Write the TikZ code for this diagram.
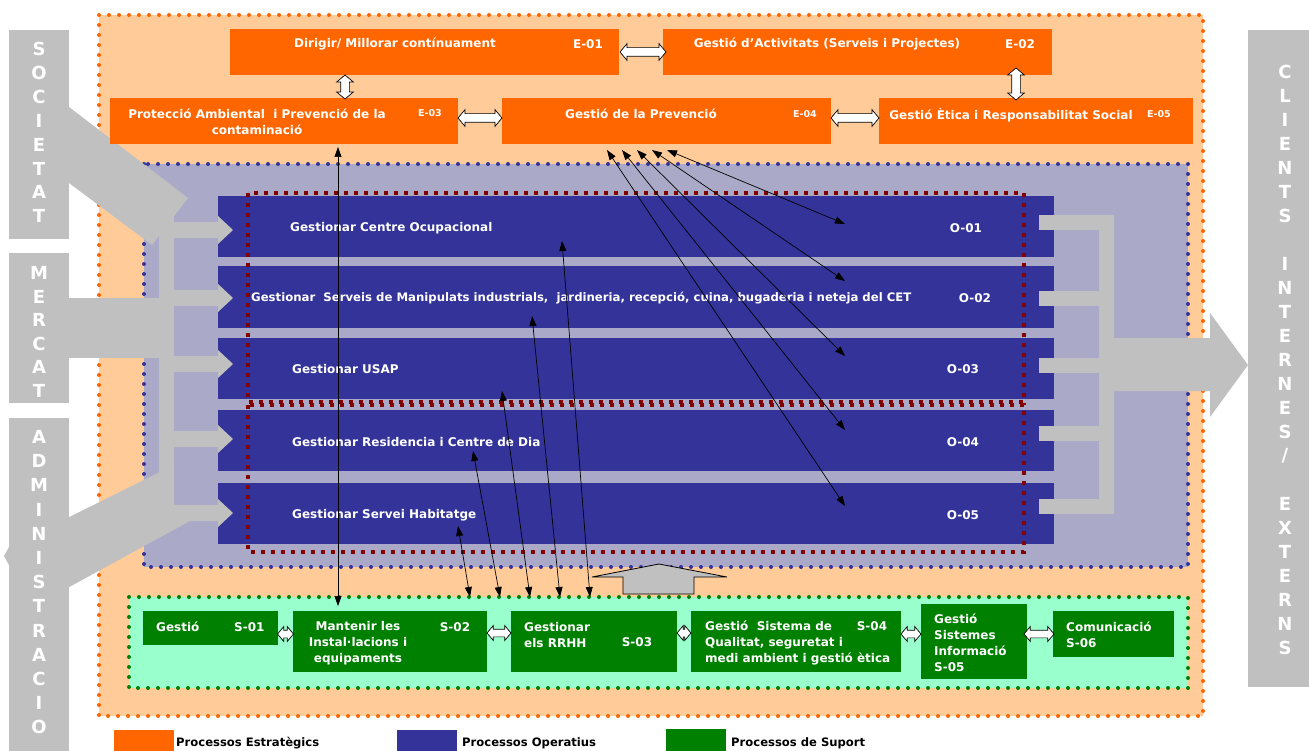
\documentclass[tikz,border=0pt]{standalone}
\usepackage{fontspec}
\setmainfont{DejaVu Sans}
\usetikzlibrary{arrows.meta, shapes.arrows}

\definecolor{estrat}{HTML}{FF6600}
\definecolor{estratfons}{HTML}{FFCC99}
\definecolor{operat}{HTML}{333399}
\definecolor{operatfons}{HTML}{AAAAC8}
\definecolor{suport}{HTML}{008000}
\definecolor{suportfons}{HTML}{99FFCC}
\definecolor{gris}{HTML}{C0C0C0}
\definecolor{granat}{HTML}{800000}

\begin{document}
\begin{tikzpicture}[x=1pt, y=-1pt,
    area box/.style={rectangle, inner sep=0pt, anchor=north west},
    label text/.style={text=white, inner sep=0pt, font=\bfseries\fontsize{12}{16}\selectfont},
    code text/.style={text=white, inner sep=0pt, font=\bfseries\fontsize{9.5}{12}\selectfont},
    legend text/.style={text=black, inner sep=0pt, anchor=west, font=\bfseries\fontsize{11.6}{14}\selectfont},
    column letter/.style={text=white, inner sep=0pt, font=\bfseries\fontsize{18}{18}\selectfont},
    orange dots/.style={draw=estrat, line width=4pt, line cap=round, dash pattern=on 0pt off 10pt},
    blue dots/.style={draw=operat, line width=4pt, line cap=round, dash pattern=on 0pt off 10pt},
    green dots/.style={draw=suport, line width=4pt, line cap=round, dash pattern=on 0pt off 10pt},
    wine dots/.style={draw=granat, line width=3.8pt, dash pattern=on 3.8pt off 6.2pt},
    white arrow/.style={double arrow, draw=black, fill=white, line width=0.7pt, inner sep=0pt,
        minimum width=0pt, double arrow head extend=4pt, double arrow tip angle=100},
    link/.style={draw=black, line width=0.7pt, {Triangle[length=10pt,width=7pt]}-{Triangle[length=10pt,width=7pt]}}
]
\useasboundingbox (0,0) rectangle (1309,751);

% 1. Zones de fons
\fill[estratfons] (99,15) rectangle (1203,716);
\draw[orange dots] (99,15) rectangle (1203,716);
\fill[operatfons] (144,164) rectangle (1188,567);
\draw[blue dots] (144,164) rectangle (1188,567);
\fill[suportfons] (129,597) rectangle (1188,688);
\draw[green dots] (129,597) rectangle (1188,688);

% 2. Processos operatius
\foreach \i/\yc/\xt/\txt/\xc in {
    1/226.5/290/{Gestionar Centre Ocupacional}/966,
    2/297/251/{\fontsize{11.7}{16}\selectfont Gestionar\ \ Serveis de Manipulats industrials,\ \ jardineria, recepció, cuina, bugaderia i neteja del CET}/975,
    3/368/292/{Gestionar USAP}/963,
    4/440.5/292/{Gestionar Residencia i Centre de Dia}/963,
    5/513.5/292/{Gestionar Servei Habitatge}/963
}{
    \node[area box, anchor=west, fill=operat, minimum width=836pt, minimum height=61pt] (op\i) at (218,\yc) {};
    \node[label text, anchor=west] (op\i txt) at (\xt,\yc+1.5) {\txt};
    \node[label text] (op\i code) at (\xc,\yc+1.5) {O-0\i};
}
\draw[wine dots] (248,193) rectangle (1024,402);
\draw[wine dots] (248,405) rectangle (1024,552);

% 3. Fletxes grises d'entrada i de sortida
\fill[gris] (69,107) -- (188,198) -- (152,245) -- (69,183) -- cycle;
\fill[gris] (69,298) rectangle (174,358);
\fill[gris] (4,556) -- (9,547) -- (174,465) -- (174,505) -- (190,521) -- (9,620) -- (9,565) -- cycle;
\fill[gris] (159,215) rectangle (174,480);
\foreach \yc in {230,298,364,439,513}{
    \fill[gris] (174,\yc-8) rectangle (218,\yc+8);
    \fill[gris] (218,\yc-14) -- (233,\yc) -- (218,\yc+14) -- cycle;
}
\fill[gris] (1099,215) rectangle (1114,513);
\foreach \yc in {222.5,298.5,365.5,433.5,506}{
    \fill[gris] (1039,\yc-7.5) rectangle (1114,\yc+7.5);
}
\fill[gris] (1114,338) -- (1210,338) -- (1210,313) -- (1248,365) -- (1210,417) -- (1210,391) -- (1114,391) -- cycle;

% 4. Processos estratègics
\foreach \nm/\x/\y/\w in {e01/230/29/389, e02/663/29/389, e03/110/98/348, e04/502/98/329, e05/879/98/314}{
    \node[area box, fill=estrat, minimum width=\w pt, minimum height=46pt] (\nm) at (\x,\y) {};
}
\node[label text] (e01txt) at (395,44) {Dirigir/ Millorar contínuament};
\node[label text] (e01code) at (588,44) {E-01};
\node[label text] (e02txt) at (827,44) {Gestió d’Activitats (Serveis i Projectes)};
\node[label text] (e02code) at (1020,44) {E-02};
\node[label text, align=center] (e03txt) at (257,122) {Protecció Ambiental\ \ i Prevenció de la\\contaminació};
\node[code text] (e03code) at (430,113) {E-03};
\node[label text] (e04txt) at (641,114) {Gestió de la Prevenció};
\node[code text] (e04code) at (805,114) {E-04};
\node[label text] (e05txt) at (1011,115) {Gestió Ètica i Responsabilitat Social};
\node[code text] (e05code) at (1159,114) {E-05};

% 5. Processos de suport
\foreach \nm/\x/\y/\w/\h in {s01/143/611/135/34, s02/293/611/194/61, s03/511/611/166/61,
                             s04/691/611/210/61, s05/921/604/106/75, s06/1053/611/121/46}{
    \node[area box, fill=suport, minimum width=\w pt, minimum height=\h pt] (\nm) at (\x,\y) {};
}
\node[label text, anchor=west] (s01txt) at (156,627) {Gestió};
\node[label text, anchor=west] (s01code) at (234,627) {S-01};
\node[label text, align=center] (s02txt) at (358,643) {Mantenir les\\Instal·lacions i\\equipaments};
\node[label text] (s02code) at (455,627) {S-02};
\node[label text, align=left, anchor=west] (s03txt) at (524,635) {Gestionar\\els RRHH};
\node[label text] (s03code) at (637,642) {S-03};
\node[label text, align=left, anchor=west] (s04txt) at (705,643) {Gestió\ \ Sistema de\\Qualitat, seguretat i\\medi ambient i gestió ètica};
\node[label text] (s04code) at (872,626) {S-04};
\node[label text, align=left, anchor=west] (s05txt) at (934,643) {Gestió\\Sistemes\\Informació\\S-05};
\node[label text, align=left, anchor=west] (s06txt) at (1066,635) {Comunicació\\S-06};

% fletxa grisa cap amunt
\filldraw[fill=gris, draw=black, line width=0.8pt] (592,577) -- (659,564) -- (727,577) -- (694,577)
    -- (694,594) -- (623,594) -- (623,577) -- cycle;

% 6. Relacions entre processos
\coordinate (e03peu) at (338,147);
\coordinate (s02cap) at (338,606);
\draw[link] (e03peu) -- (s02cap);
\foreach \i/\xa/\yb in {1/667/224, 2/652/281, 3/637/356, 4/622/430, 5/607/506}{
    \coordinate (prev\i) at (\xa,150);
    \coordinate (opx\i) at (845,\yb);
    \draw[link] (prev\i) -- (opx\i);
}
\foreach \i/\xa/\ya/\xb in {5/458/526/470, 4/473/451/500, 3/502/391/530, 2/532/316/560, 1/562/241/590}{
    \coordinate (rrhh\i) at (\xa,\ya);
    \coordinate (sup\i) at (\xb,597);
    \draw[link] (sup\i) -- (rrhh\i);
}

% fletxes dobles blanques (el \rule fixa el gruix del cos)
\foreach \nm/\x/\y/\len/\rot in {a0102/643/52/46/0, a0304/480/118/44/0, a0405/855/118/48/0,
                                 a0103/345/87/24/90, a0205/1016/84/32/90}{
    \node[white arrow, minimum height=\len pt, rotate=\rot] (\nm) at (\x,\y) {\rule{0pt}{8pt}};
}
\foreach \nm/\x/\y/\len in {b0102/285.5/634/16, b0203/499/633/24, b0304/684/633/14,
                            b0405/911/634/20, b0506/1039/634/30}{
    \node[white arrow, double arrow head extend=3.5pt, minimum height=\len pt] (\nm) at (\x,\y) {\rule{0pt}{7pt}};
}

% 7. Columnes d'entorn
\node[area box, fill=gris, minimum width=60pt, minimum height=209pt] (societat) at (9,30) {};
\node[area box, fill=gris, minimum width=60pt, minimum height=150pt] (mercat) at (9,253) {};
\node[area box, fill=gris, minimum width=60pt, minimum height=333pt] (administracio) at (9,418) {};
\node[area box, fill=gris, minimum width=61pt, minimum height=657pt] (clients) at (1248,30) {};
\foreach \ch [count=\i from 0] in {S,O,C,I,E,T,A,T}
    \node[column letter] (soc\i) at (39,49+23.9*\i) {\ch};
\foreach \ch [count=\i from 0] in {M,E,R,C,A,T}
    \node[column letter] (mer\i) at (39,273+23.6*\i) {\ch};
\foreach \ch [count=\i from 0] in {A,D,M,I,N,I,S,T,R,A,C,I,O}
    \node[column letter] (adm\i) at (39,437+24.2*\i) {\ch};
\foreach \ch [count=\i from 0] in {C,L,I,E,N,T,S,{},I,N,T,E,R,N,E,S,{/},{},E,X,T,E,R,N,S}
    \node[column letter] (cli\i) at (1285,72+24*\i) {\ch};

% 8. Llegenda
\node[area box, fill=estrat, minimum width=60pt, minimum height=22pt] (legestrat) at (114,730) {};
\node[legend text] (legestrattxt) at (176,743) {Processos Estratègics};
\node[area box, fill=operat, minimum width=60pt, minimum height=22pt] (legoperat) at (397,730) {};
\node[legend text] (legoperattxt) at (462,743) {Processos Operatius};
\node[area box, fill=suport, minimum width=60pt, minimum height=22pt] (legsuport) at (666,729) {};
\node[legend text] (legsuporttxt) at (731,743) {Processos de Suport};

\end{tikzpicture}
\end{document}
